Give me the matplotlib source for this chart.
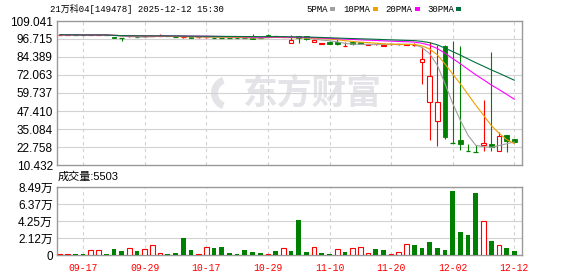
import matplotlib
matplotlib.use('Agg')
import matplotlib.pyplot as plt
from matplotlib.patches import Rectangle, Wedge
from matplotlib.transforms import IdentityTransform
import pandas as pd

# 日期 (09-12 ~ 12-12)
dates = ['09-12', '09-15', '09-16', '09-17', '09-18', '09-19', '09-22', '09-23', '09-24', '09-25',
         '09-26', '09-29', '09-30', '10-09', '10-10', '10-13', '10-14', '10-15', '10-16', '10-17',
         '10-20', '10-21', '10-22', '10-23', '10-24', '10-27', '10-28', '10-29', '10-30', '10-31',
         '11-03', '11-04', '11-05', '11-06', '11-07', '11-10', '11-11', '11-12', '11-13', '11-14',
         '11-17', '11-18', '11-19', '11-20', '11-21', '11-24', '11-25', '11-26', '11-27', '11-28',
         '12-01', '12-02', '12-03', '12-04', '12-05', '12-08', '12-09', '12-10', '12-11', '12-12']

opens = [99.3, 99.4, 99.6, 99.4, 99.3, 99.4, 99.5, 98.3, 97.3, 98.3,
         98.4, 98.3, 98.6, 98.8, 98.9, 98.5, 97.7, 98.0, 97.6, 97.8,
         97.9, 97.7, 97.7, 97.6, 97.6, 97.9, 97.6, 99.7, 98.8, 98.0,
         94.3, 99.0, 98.9, 94.8, 93.4, 95.0, 94.6, 92.0, 95.0, 94.7,
         92.8, 93.0, 92.2, 92.7, 92.7, 92.8, 92.6, 80.7, 53.4, 40.3,
         92.1, 25.4, 27.8, 20.4, 19.7, 23.9, 24.6, 20.2, 30.8, 28.2]
highs = [99.8, 99.9, 99.6, 99.5, 100.3, 99.7, 99.6, 98.4, 97.3, 98.7,
         98.5, 98.6, 99.1, 99.8, 99.0, 98.6, 98.1, 98.1, 97.9, 98.1,
         98.0, 97.8, 97.8, 97.7, 97.7, 100.3, 97.8, 99.8, 98.9, 98.4,
         99.3, 99.1, 99.0, 96.7, 93.9, 95.2, 96.8, 94.8, 95.1, 94.8,
         93.6, 93.6, 92.9, 93.2, 93.3, 93.5, 94.0, 91.0, 95.0, 92.6,
         92.5, 95.6, 92.0, 24.8, 23.9, 55.0, 87.8, 33.0, 30.8, 28.5]
lows = [99.2, 99.3, 99.3, 99.2, 99.2, 99.3, 99.2, 97.5, 95.2, 98.2,
        98.1, 98.2, 98.5, 98.7, 98.5, 98.1, 97.6, 97.5, 97.5, 97.7,
        97.6, 97.4, 97.5, 97.4, 97.3, 96.7, 97.4, 98.9, 98.2, 97.9,
        94.2, 94.0, 96.0, 94.5, 93.3, 93.4, 92.6, 92.0, 92.8, 93.0,
        92.6, 92.9, 92.1, 92.6, 92.6, 92.6, 91.8, 65.7, 27.5, 23.5,
        28.0, 25.2, 20.5, 20.2, 19.5, 20.2, 20.2, 20.0, 19.5, 25.5]
closes = [99.6, 99.6, 99.4, 99.3, 99.5, 99.6, 99.3, 97.6, 97.2, 98.5,
          98.2, 98.5, 98.9, 99.0, 98.6, 98.2, 98.0, 97.6, 97.8, 98.0,
          97.7, 97.5, 97.6, 97.5, 97.4, 96.9, 97.5, 99.0, 98.5, 98.2,
          95.8, 97.4, 96.9, 95.9, 93.8, 93.6, 93.5, 92.1, 93.0, 93.2,
          93.3, 93.4, 92.6, 93.0, 93.0, 93.2, 92.9, 82.8, 71.4, 53.6,
          29.8, 25.3, 24.5, 20.3, 19.6, 25.3, 22.8, 30.5, 26.7, 26.0]

volumes = [1000, 1000, 1000, 1000, 6200, 6200, 1200, 7500, 5400, 8300,
           5400, 7500, 12000, 2500, 1200, 2500, 21500, 6600, 1200, 9500,
           8700, 10000, 2500, 1200, 6200, 3700, 2500, 1200, 5000, 9000,
           5000, 43500, 3700, 9500, 2500, 1200, 7000, 3700, 8300, 9500,
           2500, 7500, 6200, 1200, 3300, 13300, 12400, 8700, 16000, 8700,
           6200, 79500, 28600, 24800, 77000, 43000, 17400, 12000, 8700, 5503]
# 1 = 红(涨), 0 = 绿(跌)
vol_up = [1, 1, 0, 0, 1, 1, 0, 0, 0, 1,
          0, 1, 1, 1, 0, 0, 0, 0, 1, 1,
          0, 0, 0, 0, 0, 0, 0, 1, 0, 1,
          0, 0, 0, 1, 0, 0, 1, 0, 1, 1,
          1, 0, 0, 1, 1, 1, 0, 0, 0, 0,
          0, 0, 0, 0, 0, 1, 0, 1, 0, 0]

price_ticks = [109.041, 96.715, 84.389, 72.063, 59.737, 47.410, 35.084, 22.758, 10.432]
vol_ticks = [0, 21225, 42450, 63675, 84900]
vol_labels = ['0', '2.12万', '4.25万', '6.37万', '8.49万']
date_ticks = ['09-17', '09-29', '10-17', '10-29', '11-10', '11-20', '12-02', '12-12']
ma_periods = [5, 10, 20, 30]

RED = '#ff0000'
GREEN = '#008000'
GRID = '#d2d2d2'
FRAME = '#999999'
ma_colors = ['#a0a0a0', '#f0a000', '#ff00ff', '#006f3c']
sans = ['Liberation Sans', 'Noto Sans CJK SC']
mono = ['Liberation Mono', 'Noto Sans CJK SC']

W, H = 578, 276
fig = plt.figure(figsize=(W / 100, H / 100), dpi=100)
ax = fig.add_axes([57 / W, 111 / H, 465 / W, 144 / H])
axv = fig.add_axes([57 / W, 21 / H, 465 / W, 68 / H])

x = list(range(len(dates)))
grid_x = [dates.index(d) for d in date_ticks]

for a in (ax, axv):
    a.set_xlim(-0.39, 60.0)
    for s in a.spines.values():
        s.set_color(FRAME)
        s.set_linewidth(1)
    for gx in grid_x:
        a.axvline(gx, color=GRID, lw=0.8, ls=(0, (3, 3)), zorder=1)
    a.tick_params(length=0)

# 价格
ax.set_ylim(price_ticks[-1], price_ticks[0])
ax.set_yticks(price_ticks)
ax.set_yticklabels(['%.3f' % t for t in price_ticks], fontsize=8.5, family=sans)
ax.tick_params(axis='y', pad=3)
ax.set_xticks([])
for t in price_ticks[1:-1]:
    ax.axhline(t, color=GRID, lw=0.8, zorder=1)

bw = 0.62
for i in x:
    o, h, l, c = opens[i], highs[i], lows[i], closes[i]
    up = c > o
    col = RED if up else GREEN
    lo_b, hi_b = min(o, c), max(o, c)
    if hi_b - lo_b < 0.35:
        ax.vlines(i, l, h, color=col, lw=0.8, zorder=3)
        ax.hlines(c, i - bw / 2, i + bw / 2, color=col, lw=0.9, zorder=3)
        continue
    if up:
        ax.vlines(i, l, lo_b, color=col, lw=0.8, zorder=3)
        ax.vlines(i, hi_b, h, color=col, lw=0.8, zorder=3)
        ax.add_patch(Rectangle((i - bw / 2, lo_b), bw, hi_b - lo_b, facecolor='white',
                               edgecolor=col, lw=0.8, zorder=4))
    else:
        ax.vlines(i, l, h, color=col, lw=0.8, zorder=3)
        ax.add_patch(Rectangle((i - bw / 2, lo_b), bw, hi_b - lo_b, facecolor=col,
                               edgecolor=col, lw=0.6, zorder=4))

cs = pd.Series(closes)
for n, mc in zip(ma_periods, ma_colors):
    ax.plot(x, cs.rolling(n, min_periods=1).mean(), color=mc, lw=0.8, zorder=5)

# 水印
ax.text(312 / W, 1 - 94 / H, '东方财富', transform=fig.transFigure, ha='center', va='center',
        fontsize=25, fontweight='bold', color='#e4e4e8', family=sans, zorder=0.5)
ax.add_patch(Wedge((228, H - 93), 17, 110, 250, width=7, transform=IdentityTransform(),
                   facecolor='#e4e4e8', edgecolor='none', zorder=0.5))

# 成交量
axv.set_ylim(0, vol_ticks[-1])
axv.set_yticks(vol_ticks)
axv.set_yticklabels(vol_labels, fontsize=8.5, family=sans)
axv.tick_params(axis='y', pad=3)
for t in vol_ticks[1:-1]:
    axv.axhline(t, color=GRID, lw=0.8, zorder=1)
for i in x:
    if vol_up[i]:
        axv.add_patch(Rectangle((i - 0.3, 0), 0.6, volumes[i], facecolor='white',
                                edgecolor=RED, lw=0.8, zorder=3))
    else:
        axv.bar(i, volumes[i], width=0.62, color=GREEN, zorder=3)
axv.set_xticks(grid_x)
axv.set_xticklabels(date_ticks, fontsize=7, family=mono, color=RED)
axv.tick_params(axis='x', pad=6)

# 标题与图例
fig.text(50 / W, 1 - 9 / H, '21万科04[149478] 2025-12-12 15:30', fontsize=6.5, family=mono,
         va='center', ha='left')
legend = [('5PMA', 306, 330), ('10PMA', 343, 373), ('20PMA', 385, 415), ('30PMA', 427, 456)]
for (name, tx, sx), mc in zip(legend, ma_colors):
    fig.text(tx / W, 1 - 9 / H, name, fontsize=6.5, family=mono, va='center', ha='left')
    fig.patches.append(Rectangle((sx / W, 1 - 10.5 / H), 5 / W, 3 / H, transform=fig.transFigure,
                                 facecolor=mc, edgecolor='none'))
fig.text(58 / W, 1 - 177 / H, '成交量:5503', fontsize=8, family=sans, va='center', ha='left')

fig.savefig('out.png', dpi=100)
